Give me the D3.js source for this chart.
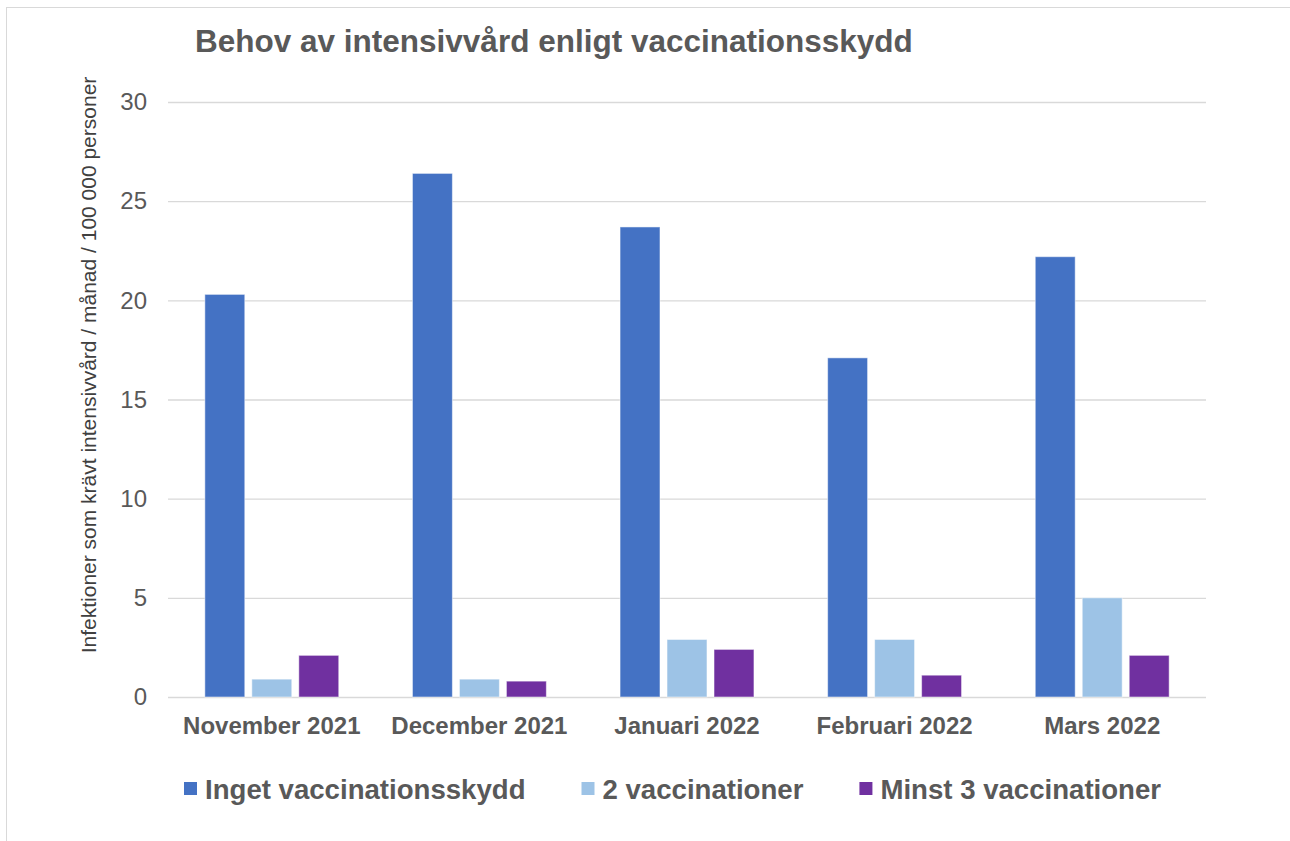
<!DOCTYPE html>
<html>
<head>
<meta charset="utf-8">
<script src="https://cdn.jsdelivr.net/npm/d3@7"></script>
<style>
  body { margin: 0; background: #fff; }
  svg { display: block; font-family: "Liberation Sans", Arial, sans-serif; }
</style>
</head>
<body>
<svg id="chart" width="1290" height="841"></svg>
<script>
const months = ['November 2021', 'December 2021', 'Januari 2022', 'Februari 2022', 'Mars 2022'];
const seriesNames = ['Inget vaccinationsskydd', '2 vaccinationer', 'Minst 3 vaccinationer'];
const unvaccinated = [20.3, 26.4, 23.7, 17.1, 22.2];
const twoDoses = [0.9, 0.9, 2.9, 2.9, 5.0];
const threeDoses = [2.1, 0.8, 2.4, 1.1, 2.1];
const yTicks = [0, 5, 10, 15, 20, 25, 30];

const COLORS = ['#4472C4', '#9DC3E6', '#7030A0'];
const TEXT_FILL = '#595959';
const GRID = '#d9d9d9';

const svg = d3.select('#chart');

// light frame round the chart area
svg.append('rect')
  .attr('x', 6.5).attr('y', 7.5)
  .attr('width', 1400).attr('height', 1000)
  .attr('fill', 'none')
  .attr('stroke', GRID);

const margin = { left: 168, right: 1206, top: 102, bottom: 697 };

const x = d3.scaleBand()
  .domain(months)
  .range([margin.left, margin.right])
  .paddingInner(0.355)
  .paddingOuter(0.1775);

const xs = d3.scaleBand()
  .domain(seriesNames)
  .range([0, x.bandwidth()])
  .paddingInner(0.15);

const y = d3.scaleLinear()
  .domain([0, 30])
  .range([margin.bottom, margin.top]);

svg.append('text')
  .attr('x', 195)
  .attr('y', 52)
  .attr('fill', TEXT_FILL)
  .attr('font-size', '31.5px')
  .attr('font-weight', 'bold')
  .text('Behov av intensivvård enligt vaccinationsskydd');

// gridlines + y ticks
const yAxis = svg.append('g')
  .attr('transform', `translate(${margin.left},0)`)
  .call(d3.axisLeft(y).tickValues(yTicks).tickSize(-(margin.right - margin.left)).tickPadding(21));
yAxis.select('.domain').remove();
yAxis.selectAll('.tick line').attr('stroke', GRID).attr('stroke-width', 1.3);
yAxis.selectAll('.tick text')
  .attr('fill', TEXT_FILL)
  .attr('font-size', '24px')
  .attr('font-family', '"Liberation Sans", Arial, sans-serif');

svg.append('text')
  .attr('transform', 'translate(96,365) rotate(-90)')
  .attr('text-anchor', 'middle')
  .attr('fill', '#404040')
  .attr('font-size', '21px')
  .text('Infektioner som krävt intensivvård / månad / 100 000 personer');

const table = months.map((m, i) => ({
  month: m,
  values: [unvaccinated[i], twoDoses[i], threeDoses[i]]
}));

const groups = svg.append('g')
  .selectAll('g')
  .data(table)
  .enter()
  .append('g')
  .attr('transform', d => `translate(${x(d.month)},0)`);

groups.selectAll('rect')
  .data(d => d.values.map((v, j) => ({ name: seriesNames[j], value: v, idx: j })))
  .enter()
  .append('rect')
  .attr('x', d => xs(d.name))
  .attr('width', xs.bandwidth())
  .attr('y', d => y(d.value))
  .attr('height', d => y(0) - y(d.value))
  .attr('fill', d => COLORS[d.idx])
  .attr('stroke', '#ffffff')
  .attr('stroke-opacity', 0.5)
  .attr('stroke-width', 1);

// x labels
svg.append('g')
  .selectAll('text')
  .data(months)
  .enter()
  .append('text')
  .attr('x', d => x(d) + x.bandwidth() / 2)
  .attr('y', 734)
  .attr('text-anchor', 'middle')
  .attr('fill', TEXT_FILL)
  .attr('font-size', '24px')
  .attr('font-weight', 'bold')
  .text(d => d);

// legend
const legend = svg.append('g');
let lx = 184;
seriesNames.forEach((name, i) => {
  legend.append('rect')
    .attr('x', lx).attr('y', 782)
    .attr('width', 13).attr('height', 13)
    .attr('fill', COLORS[i]);
  const t = legend.append('text')
    .attr('x', lx + 21)
    .attr('y', 799)
    .attr('fill', TEXT_FILL)
    .attr('font-size', '27.6px')
    .attr('font-weight', 'bold')
    .text(name);
  lx += 21 + t.node().getComputedTextLength() + 56;
});
</script>
</body>
</html>
